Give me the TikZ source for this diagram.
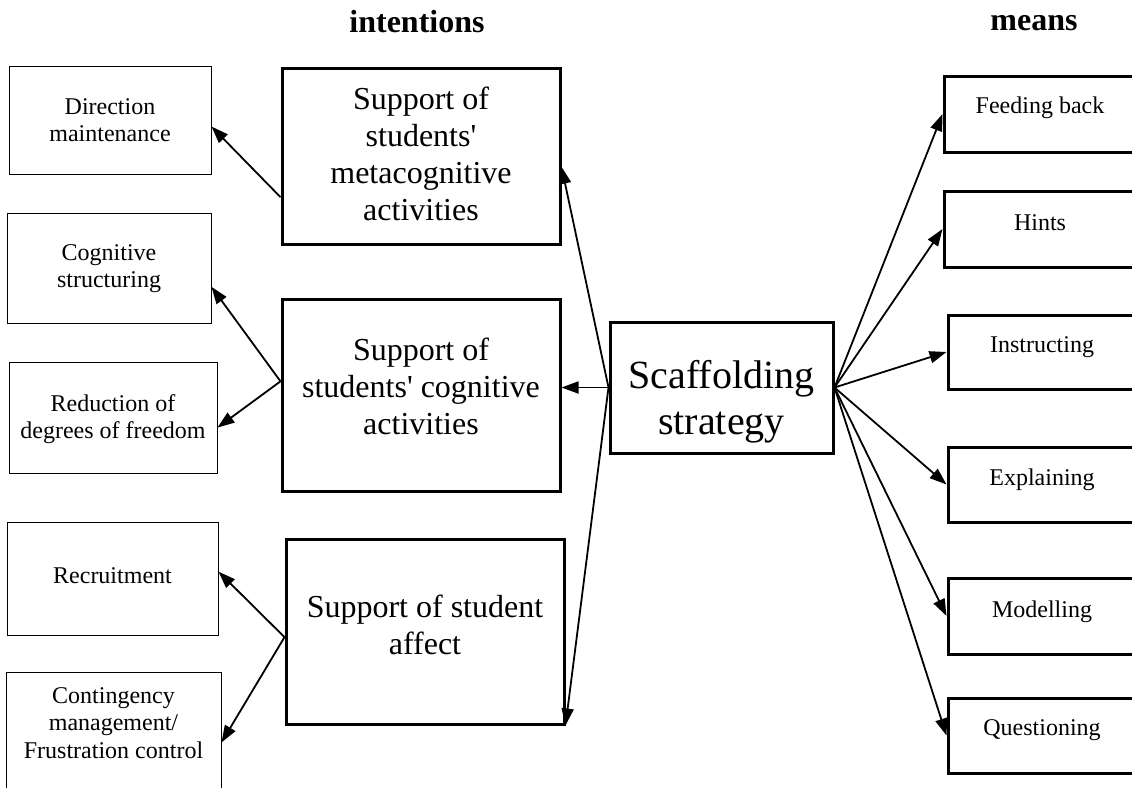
\documentclass[tikz,border=0pt]{standalone}
\usepackage{fontspec}
\setmainfont{Liberation Serif}[Ligatures=TeXOff]
\usetikzlibrary{calc,arrows.meta}

% box text: width, height, first baseline, lines
\newcommand{\boxtext}[4]{\parbox[c][#2pt][t]{#1pt}{\centering\rule{0pt}{#3pt}#4}}

\tikzset{
    smallbox/.style={draw, line width=1pt, inner sep=0pt, font=\fontsize{24}{27.6}\selectfont},
    midbox/.style={draw, line width=3pt, inner sep=0pt, font=\fontsize{32}{37}\selectfont},
    meansbox/.style={draw, line width=3pt, inner sep=0pt, font=\fontsize{24}{27.6}\selectfont},
    heading/.style={anchor=base, font=\fontsize{32}{37}\selectfont\bfseries},
    link/.style={line width=1.8pt, -{Triangle[length=17pt,width=12pt]}}
}

\begin{document}
\begin{tikzpicture}[x=1pt,y=-1pt]
    \useasboundingbox (0,0) rectangle (1132,787);
    \clip (0,0) rectangle (1132,787);
    % headings
    \node [heading] (intentions) at (417,32) {intentions};
    \node [heading] (means) at (1034,30) {means};
    % left column
    \node [smallbox] (direction) at (110,120) {\boxtext{202}{108}{48}{Direction\\maintenance}};
    \node [smallbox] (structuring) at (109,268) {\boxtext{204}{110}{47}{Cognitive\\structuring}};
    \node [smallbox] (reduction) at (113,417.5) {\boxtext{208}{111}{49}{Reduction of\\degrees of freedom}};
    \node [smallbox] (recruit) at (112.5,578.5) {\boxtext{211}{113}{61}{Recruitment}};
    \node [smallbox] (contingency) at (113.5,736) {\boxtext{215}{128}{31}{Contingency\\management/\\Frustration control}};
    % intentions
    \node [midbox] (meta) at (421,156) {\boxtext{278}{176}{41}{Support of\\students'\\metacognitive\\activities}};
    \node [midbox] (cogmid) at (421,395) {\boxtext{278}{192}{61}{Support of\\students' cognitive\\activities}};
    \node [midbox] (affect) at (425,631.5) {\boxtext{278}{185}{78}{Support of student\\affect}};
    % centre
    \node [midbox, font=\fontsize{40}{46}\selectfont] (scaff) at (721.5,387.5) {\boxtext{223}{131}{66}{Scaffolding\\strategy}};
    % means
    \node [meansbox] (feeding) at (1040,114) {\boxtext{192}{76}{37}{Feeding back}};
    \node [meansbox] (hints) at (1040,229) {\boxtext{192}{76}{39}{Hints}};
    \node [meansbox] (instructing) at (1042,352) {\boxtext{188}{74}{37}{Instructing}};
    \node [meansbox] (explaining) at (1042,484.5) {\boxtext{188}{75}{38}{Explaining}};
    \node [meansbox] (modelling) at (1042,616) {\boxtext{188}{76}{39}{Modelling}};
    \node [meansbox] (questioning) at (1042,735.5) {\boxtext{188}{75}{37}{Questioning}};
    % arrows to the intentions
    \draw [link] (scaff.west) -- ($(meta.north east)!0.56!(meta.south east)$);
    \draw [link] (scaff.west) -- (scaff.west -| cogmid.east);
    \draw [link] (scaff.west) -- (affect.south east);
    \draw [link] ($(meta.north west)!0.73!(meta.south west)$) -- ($(direction.north east)!0.56!(direction.south east)$);
    \draw [link] ($(cogmid.north west)!0.43!(cogmid.south west)$) -- ($(structuring.north east)!0.67!(structuring.south east)$);
    \draw [link] ($(cogmid.north west)!0.43!(cogmid.south west)$) -- ($(reduction.north east)!0.59!(reduction.south east)$);
    \draw [link] ($(affect.north west)!0.53!(affect.south west)$) -- ($(recruit.north east)!0.44!(recruit.south east)$);
    \draw [link] ($(affect.north west)!0.53!(affect.south west)$) -- ($(contingency.north east)!0.55!(contingency.south east)$);
    % arrows to the means
    \draw [link] (scaff.east) -- (feeding.west);
    \draw [link] (scaff.east) -- (hints.west);
    \draw [link] (scaff.east) -- (instructing.west);
    \draw [link] (scaff.east) -- (explaining.west);
    \draw [link] (scaff.east) -- (modelling.west);
    \draw [link] (scaff.east) -- (questioning.west);
\end{tikzpicture}
\end{document}
